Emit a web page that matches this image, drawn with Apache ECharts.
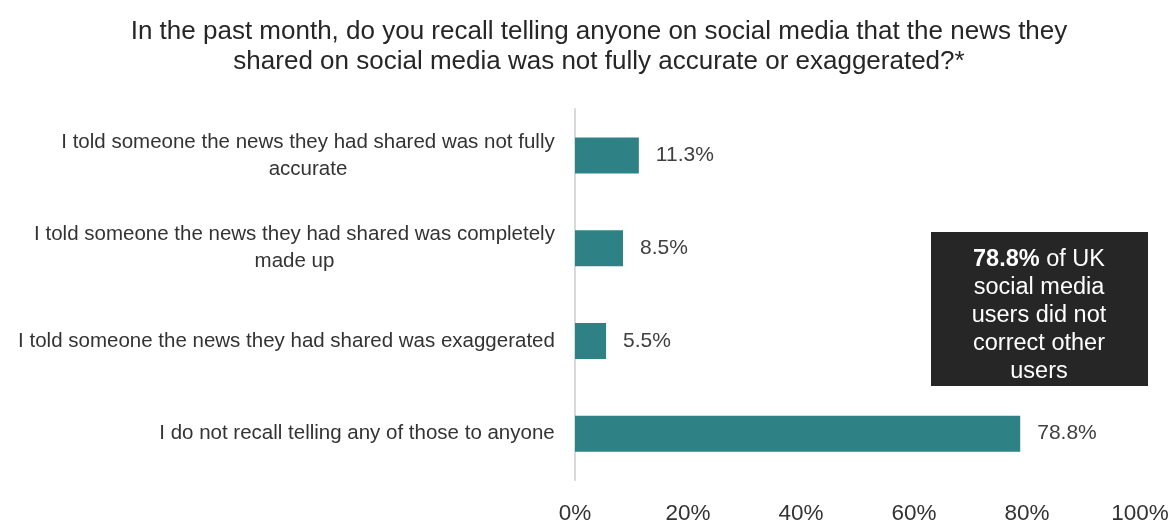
<!DOCTYPE html>
<html>
<head>
<meta charset="utf-8">
<script src="https://cdn.jsdelivr.net/npm/echarts@6/dist/echarts.min.js"></script>
<style>
  html, body { margin: 0; padding: 0; background: #fff; }
  #chart { width: 1170px; height: 522px; }
</style>
</head>
<body>
<div id="chart"></div>
<script>
const titleText = 'In the past month, do you recall telling anyone on social media that the news they\nshared on social media was not fully accurate or exaggerated?*';
const categories = [
  'I told someone the news they had shared was not fully\naccurate',
  'I told someone the news they had shared was completely\nmade up',
  'I told someone the news they had shared was exaggerated',
  'I do not recall telling any of those to anyone',
];
const values = [11.3, 8.5, 5.5, 78.8];
const xTicks = [0, 20, 40, 60, 80, 100];

const font = '"Liberation Sans", Arial, sans-serif';
const labelSize = 20.5;

// multi-line category labels: lines centred on each other, block right-aligned
const ctx = document.createElement('canvas').getContext('2d');
ctx.font = labelSize + 'px ' + font;
const labelRich = {};
categories.forEach((c, i) => {
  const w = Math.max(...c.split('\n').map((l) => ctx.measureText(l).width));
  labelRich['c' + i] = { width: Math.ceil(w), align: 'center', fontFamily: font, fontSize: labelSize, color: '#333', lineHeight: 27 };
});

const chart = echarts.init(document.getElementById('chart'));

chart.setOption({
  backgroundColor: '#fff',
  animation: false,
  title: {
    text: titleText,
    left: 594,
    top: 12,
    textAlign: 'center',
    textStyle: { fontFamily: font, fontSize: 26, fontWeight: 'normal', color: '#262626', lineHeight: 30 },
  },
  grid: { left: 575, right: 30, top: 109, bottom: 42, containLabel: false, outerBoundsMode: 'none' },
  xAxis: {
    type: 'value',
    min: xTicks[0],
    max: xTicks[xTicks.length - 1],
    interval: 20,
    axisLine: { show: false },
    axisTick: { show: false },
    splitLine: { show: false },
    axisLabel: {
      fontFamily: font, fontSize: 22.5, color: '#333', margin: 22,
      formatter: (v) => v + '%',
    },
  },
  yAxis: {
    type: 'category',
    inverse: true,
    data: categories,
    axisLine: { show: true, lineStyle: { color: '#d9d9d9', width: 2 } },
    axisTick: { show: false },
    axisLabel: {
      fontFamily: font, fontSize: labelSize, color: '#333', margin: 20, lineHeight: 27,
      formatter: (v, i) => v.split('\n').map((l) => '{c' + i + '|' + l + '}').join('\n'),
      rich: labelRich,
    },
  },
  series: [{
    type: 'bar',
    data: values,
    barWidth: 36,
    itemStyle: { color: '#2e8285' },
    label: {
      show: true, position: 'right', distance: 17,
      fontFamily: font, fontSize: 21, color: '#404040',
      formatter: (p) => p.value.toFixed(1) + '%',
    },
  }],
  graphic: [{
    type: 'group',
    left: 931,
    top: 232,
    children: [
      { type: 'rect', shape: { x: 0, y: 0, width: 217, height: 154 }, style: { fill: '#262626' } },
      {
        type: 'text',
        x: 108, y: 84,
        style: {
          text: '{b|78.8%} of UK\nsocial media\nusers did not\ncorrect other\nusers',
          align: 'center', verticalAlign: 'middle',
          fontFamily: font, fontSize: 23.5, lineHeight: 28, fill: '#fff',
          rich: { b: { fontWeight: 'bold', fontFamily: font, fontSize: 23.5, lineHeight: 28, fill: '#fff' } },
        },
      },
    ],
  }],
});
</script>
</body>
</html>
